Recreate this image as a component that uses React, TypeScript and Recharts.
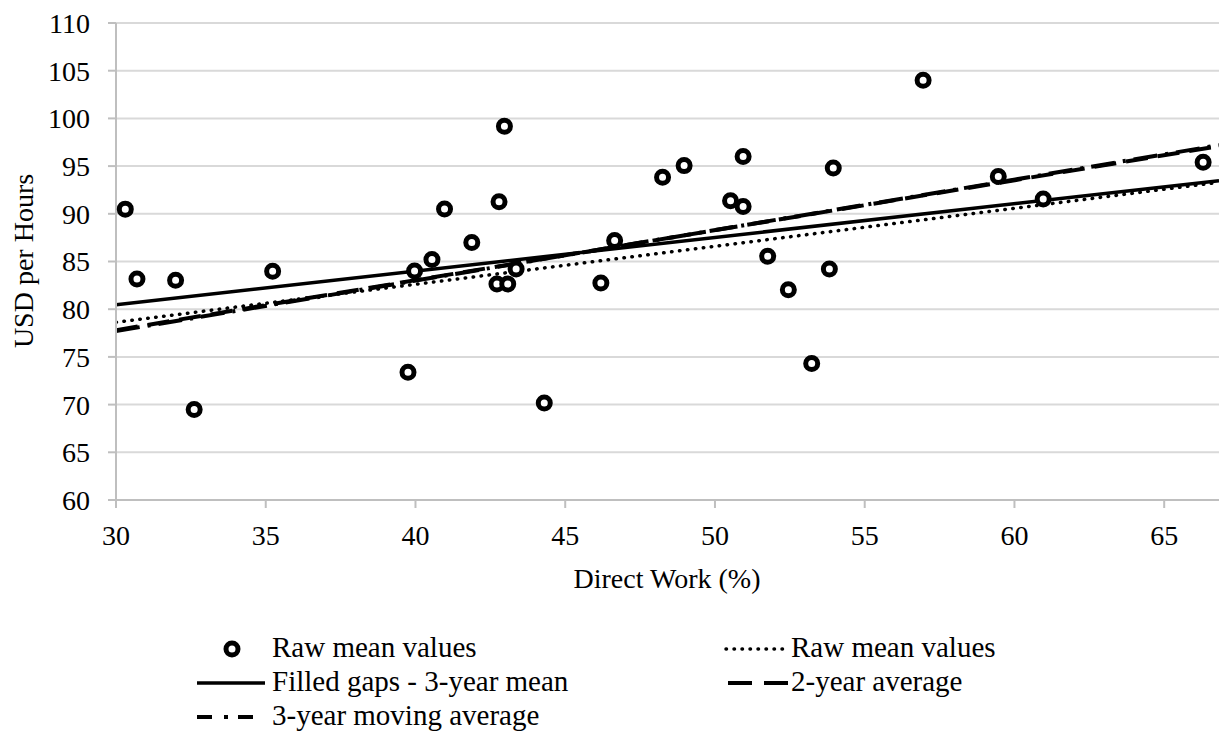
import { CartesianGrid, ComposedChart, Line, Scatter, XAxis, YAxis } from "recharts";

const directWork = [
  30.31, 30.7, 31.99, 32.61, 35.23, 39.75, 39.97, 40.55, 40.97, 41.88, 42.72, 42.79, 42.97, 43.08, 43.36, 44.3,
  46.19, 46.65, 48.25, 48.97, 50.52, 50.94, 50.94, 51.76, 52.45, 53.23, 53.82, 53.95, 56.95, 59.46, 60.96, 66.3,
];
const usdPerHour = [
  90.49, 83.16, 83.03, 69.49, 83.98, 73.4, 84.0, 85.2, 90.5, 87.0, 82.64, 91.26, 99.17, 82.64, 84.22, 70.16,
  82.74, 87.2, 93.82, 95.05, 91.36, 96.0, 90.76, 85.56, 82.05, 74.3, 84.22, 94.8, 104.0, 93.9, 91.54, 95.4,
];

// trendline end points (left edge, right edge)
const trendX = [30, 66.83];
const rawMeanTrend = [78.63, 93.3];
const filledGapsTrend = [80.46, 93.47];
const twoYearTrend = [77.8, 97.1];
const movingAvgTrend = [77.7, 97.2];

const xTicks = [30, 35, 40, 45, 50, 55, 60, 65];
const yTicks = [60, 65, 70, 75, 80, 85, 90, 95, 100, 105, 110];

const serif = "'Liberation Serif', 'DejaVu Serif', 'Times New Roman', serif";

const points = directWork.map((x, i) => ({ x, y: usdPerHour[i] }));
const trend = (vals: number[]) => trendX.map((x, i) => ({ x, y: vals[i] }));

function Ring(props: any) {
  const { cx, cy } = props;
  return <circle cx={cx} cy={cy} r={6} fill="#fff" stroke="#000" strokeWidth={5} />;
}

export default function App() {
  return (
    <div
      style={{
        position: "absolute",
        left: 0,
        top: 0,
        width: 1219,
        height: 731,
        background: "#fff",
        overflow: "hidden",
        fontFamily: serif,
      }}
    >
      <ComposedChart width={1219} height={731} margin={{ top: 23, right: 0, bottom: 191, left: 0 }} style={{ fontFamily: serif }}>
        <CartesianGrid vertical={false} stroke="#d9d9d9" strokeWidth={2} />
        <XAxis
          dataKey="x"
          type="number"
          domain={[30, 66.83]}
          allowDataOverflow
          ticks={xTicks}
          height={40}
          stroke="#bfbfbf"
          strokeWidth={2}
          tickSize={8}
          tickMargin={17}
          tick={{ fill: "#000", fontSize: 28, style: { fontFamily: serif } }}
        />
        <YAxis
          dataKey="y"
          type="number"
          domain={[60, 110]}
          ticks={yTicks}
          width={116}
          stroke="#bfbfbf"
          strokeWidth={2}
          tickSize={8}
          tickMargin={18}
          tick={{ fill: "#000", fontSize: 28, style: { fontFamily: serif } }}
        />
        <Scatter data={points} dataKey="y" shape={Ring} isAnimationActive={false} />
        <Line data={trend(rawMeanTrend)} dataKey="y" type="linear" stroke="#000" strokeWidth={3.5} strokeDasharray="0.5 7.5" strokeLinecap="round" dot={false} activeDot={false} isAnimationActive={false} />
        <Line data={trend(filledGapsTrend)} dataKey="y" type="linear" stroke="#000" strokeWidth={3.5} dot={false} activeDot={false} isAnimationActive={false} />
        <Line data={trend(twoYearTrend)} dataKey="y" type="linear" stroke="#000" strokeWidth={4} strokeDasharray="22 10" dot={false} activeDot={false} isAnimationActive={false} />
        <Line data={trend(movingAvgTrend)} dataKey="y" type="linear" stroke="#000" strokeWidth={4} strokeDasharray="24 8 3 8" dot={false} activeDot={false} isAnimationActive={false} />
      </ComposedChart>
      <svg width={1219} height={731} style={{ position: "absolute", left: 0, top: 0, pointerEvents: "none", fontFamily: serif }}>
        <text x={23} y={261} fontSize={28} textAnchor="middle" dy="0.35em" transform="rotate(-90 23 261)">
          USD per Hours
        </text>
        <text x={667} y={588} fontSize={28} textAnchor="middle">
          Direct Work (%)
        </text>
        <g fontSize={29}>
          <circle cx={232} cy={649} r={6} fill="#fff" stroke="#000" strokeWidth={5} />
          <text x={272} y={657}>Raw mean values</text>
          <line x1={726} y1={649} x2={788} y2={649} stroke="#000" strokeWidth={3.5} strokeDasharray="0.5 7.5" strokeLinecap="round" />
          <text x={791} y={657}>Raw mean values</text>
          <line x1={197} y1={683} x2={265} y2={683} stroke="#000" strokeWidth={3.5} />
          <text x={272} y={691}>Filled gaps - 3-year mean</text>
          <line x1={728} y1={683} x2={788} y2={683} stroke="#000" strokeWidth={4} strokeDasharray="24 12" />
          <text x={791} y={691}>2-year average</text>
          <line x1={197} y1={717} x2={255} y2={717} stroke="#000" strokeWidth={4} strokeDasharray="15 12 4 10 15 100" />
          <text x={272} y={725}>3-year moving average</text>
        </g>
      </svg>
    </div>
  );
}
